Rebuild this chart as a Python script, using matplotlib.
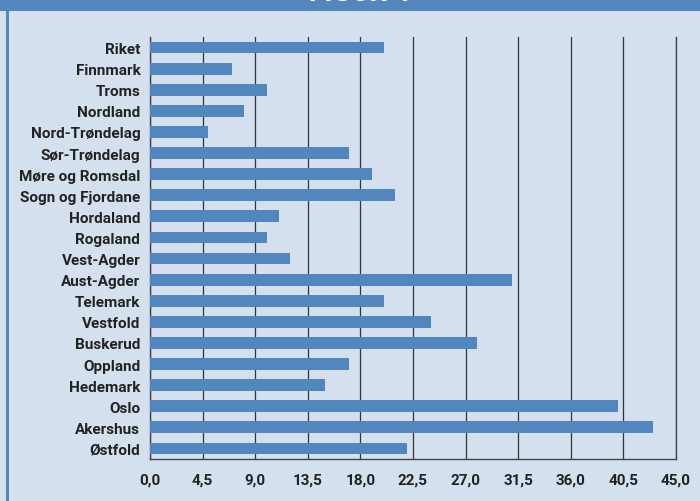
import matplotlib
matplotlib.use("Agg")
import matplotlib.pyplot as plt
from matplotlib.patches import Rectangle

categories = ["Riket", "Finnmark", "Troms", "Nordland", "Nord-Trøndelag",
              "Sør-Trøndelag", "Møre og Romsdal", "Sogn og Fjordane", "Hordaland",
              "Rogaland", "Vest-Agder", "Aust-Agder", "Telemark", "Vestfold",
              "Buskerud", "Oppland", "Hedemark", "Oslo", "Akershus", "Østfold"]
values = [20, 7, 10, 8, 5, 17, 19, 21, 11, 10, 12, 31, 20, 24, 28, 17, 15, 40, 43, 22]
xticks = [0, 4.5, 9, 13.5, 18, 22.5, 27, 31.5, 36, 40.5, 45]
xtick_labels = ["0,0", "4,5", "9,0", "13,5", "18,0", "22,5", "27,0", "31,5", "36,0", "40,5", "45,0"]
title = "FIGUR 4"

bg = "#D5E0EE"
blue = "#5286BE"
txt = "#222222"

plt.rcParams['font.family'] = ['Roboto', 'DejaVu Sans']

W, H = 700, 502
fig = plt.figure(figsize=(7, 5.02), dpi=100, facecolor=bg)

# top band and left border
fig.patches.append(Rectangle((0, 1 - 12 / H), 1, 12 / H, transform=fig.transFigure,
                             facecolor=blue, edgecolor="none", zorder=0))
fig.patches.append(Rectangle((6 / W, 0), 3 / W, 1, transform=fig.transFigure,
                             facecolor=blue, edgecolor="none", zorder=0))
fig.text(360 / W, 1 - 1.0 / H, title, color="white", fontsize=20, fontweight="bold",
         ha="center", va="baseline")

ax = fig.add_axes([150 / W, 1 - 460 / H, 526 / W, 422 / H])
ax.set_facecolor(bg)

n = len(categories)
ypos = list(range(n))[::-1]
ax.barh(ypos, values, height=0.56, color=blue, zorder=3)

ax.set_xlim(0, 45)
ax.set_ylim(-0.5, n - 0.5)
ax.set_xticks(xticks)
ax.set_xticklabels(xtick_labels)
ax.set_yticks(ypos)
ax.set_yticklabels(categories)

for x in xticks:
    ax.axvline(x, color="#333333", lw=0.9, zorder=1)

ax.spines["top"].set_visible(False)
for s in ["left", "bottom", "right"]:
    ax.spines[s].set_color("#444444")
    ax.spines[s].set_linewidth(1.0)

ax.tick_params(axis="both", length=0, colors=txt, labelsize=11)
ax.tick_params(axis="x", pad=10)
ax.tick_params(axis="y", pad=7)
for lbl in ax.get_xticklabels() + ax.get_yticklabels():
    lbl.set_fontweight("bold")
    lbl.set_color(txt)

fig.savefig("out.png", dpi=100, facecolor=bg)
